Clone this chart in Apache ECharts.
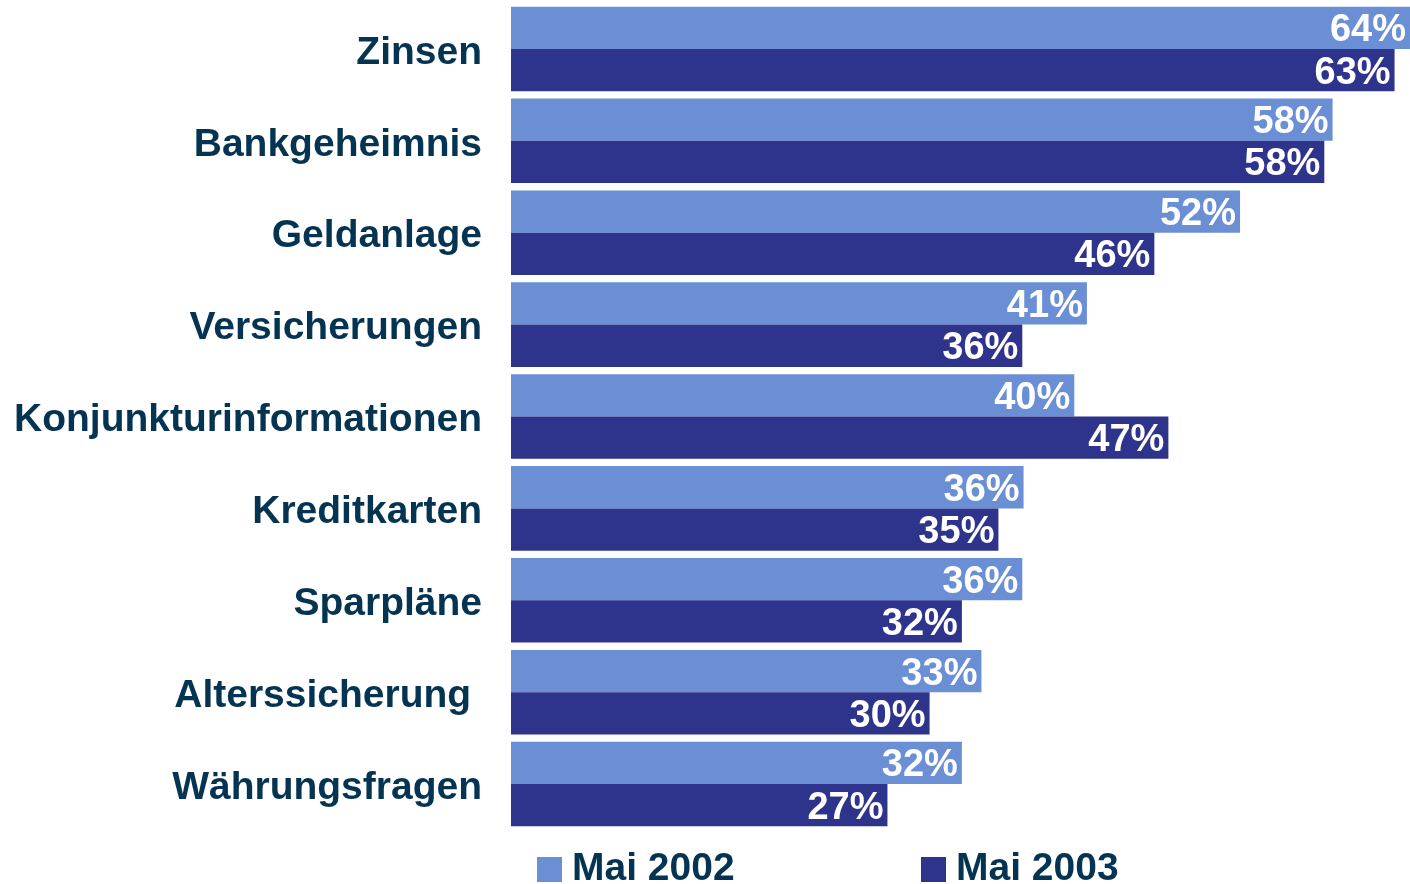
<!doctype html>
<html lang="de">
<head>
    <meta charset="UTF-8">
    <title>Themen</title>
    <style>
        html, body { margin: 0; padding: 0; background: #fff; }
    </style>
</head>
<body>
    <script src="https://cdn.jsdelivr.net/npm/echarts@6/dist/echarts.min.js"></script>
    <div id="bar" style="width: 1410px; height: 884px"></div>

    <script>
        // Kategorien und Werte (Prozent)
        var categories = ['Zinsen', 'Bankgeheimnis', 'Geldanlage', 'Versicherungen',
            'Konjunkturinformationen', 'Kreditkarten', 'Sparpläne', 'Alterssicherung ', 'Währungsfragen'];
        var mai2002 = [64.0, 58.49, 51.9, 41.0, 40.1, 36.49, 36.4, 33.49, 32.1];
        var mai2003 = [62.9, 57.9, 45.8, 36.4, 46.8, 34.7, 32.1, 29.8, 26.8];

        var textColor = '#053452';

        var barLabel = {
            show: true,
            position: 'insideRight',
            distance: 4,
            offset: [0, 3],
            color: '#fff',
            fontFamily: 'Liberation Sans',
            fontWeight: 'bold',
            fontSize: 38,
            formatter: function (p) { return Math.round(p.value) + '%'; }
        };

        var legendText = {
            color: textColor,
            fontFamily: 'Liberation Sans',
            fontWeight: 'bold',
            fontSize: 39,
            padding: [0, 0, 0, 5]
        };

        var option = {
            animation: false,
            grid: { left: 511, right: 0, top: 3, bottom: 54 },
            legend: [
                {
                    data: ['Mai 2002'], left: 537, top: 850, padding: 0, itemWidth: 25, itemHeight: 25,
                    icon: 'rect', textStyle: legendText
                },
                {
                    data: ['Mai 2003'], left: 921, top: 850, padding: 0, itemWidth: 25, itemHeight: 25,
                    icon: 'rect', textStyle: legendText
                }
            ],
            xAxis: {
                type: 'value', min: 0, max: 64,
                show: false
            },
            yAxis: {
                type: 'category',
                data: categories,
                inverse: true,
                axisLine: { show: false },
                axisTick: { show: false },
                axisLabel: {
                    margin: 29,
                    formatter: function (v) { return '{c|' + v + '}'; },
                    rich: {
                        c: {
                            color: textColor,
                            fontFamily: 'Liberation Sans',
                            fontWeight: 'bold',
                            fontSize: 39,
                            padding: [8, 0, 0, 0]
                        }
                    }
                }
            },
            series: [
                {
                    name: 'Mai 2002', type: 'bar', data: mai2002,
                    itemStyle: { color: '#6b8fd5' },
                    barGap: '0%', barCategoryGap: '8%',
                    label: barLabel
                },
                {
                    name: 'Mai 2003', type: 'bar', data: mai2003,
                    itemStyle: { color: '#2e338c' },
                    label: barLabel
                }
            ]
        };

        var chart = echarts.init(document.getElementById('bar'));
        chart.setOption(option);
    </script>
</body>
</html>
